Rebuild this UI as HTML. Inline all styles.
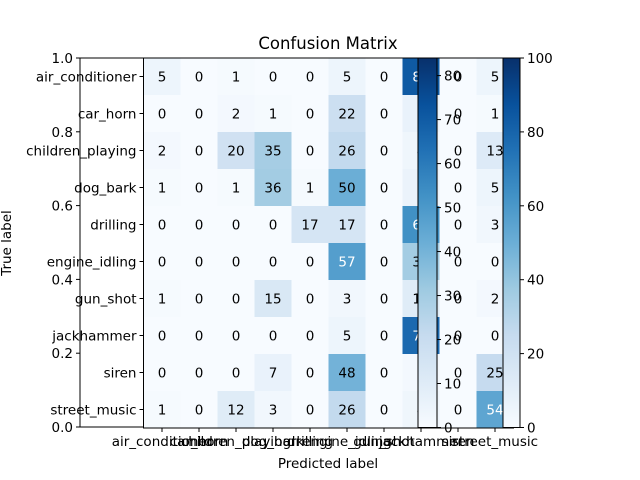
<!DOCTYPE html>
<html><head><meta charset="utf-8"><style>
body{margin:0;background:#fff}
svg{display:block;font-family:"DejaVu Sans","Liberation Sans",sans-serif}
</style></head><body>
<svg id="c" width="640" height="480"></svg>
<script>
const classes=["air_conditioner","car_horn","children_playing","dog_bark","drilling","engine_idling","gun_shot","jackhammer","siren","street_music"];
const r0=[5,0,1,0,0,5,0,84,0,5];
const r1=[0,0,2,1,0,22,0,7,0,1];
const r2=[2,0,20,35,0,26,0,4,0,13];
const r3=[1,0,1,36,1,50,0,6,0,5];
const r4=[0,0,0,0,17,17,0,63,0,3];
const r5=[0,0,0,0,0,57,0,36,0,0];
const r6=[1,0,0,15,0,3,0,12,0,2];
const r7=[0,0,0,0,0,5,0,78,0,0];
const r8=[0,0,0,7,0,48,0,2,0,25];
const r9=[1,0,12,3,0,26,0,4,0,54];
const matrix=[r0,r1,r2,r3,r4,r5,r6,r7,r8,r9];
const cb1Ticks=[0,20,40,60,80,100];
const cb2Ticks=[0,10,20,30,40,50,60,70,80];
const outerTicks=["0.0","0.2","0.4","0.6","0.8","1.0"];

const NS="http://www.w3.org/2000/svg",svg=document.getElementById('c');
function mk(t,a,p){const e=document.createElementNS(NS,t);for(const k in a)e.setAttribute(k,a[k]);(p||svg).appendChild(e);return e;}
const stops=["#f7fbff","#deebf7","#c6dbef","#9ecae1","#6baed6","#4292c6","#2171b5","#08519c","#08306b"];
function hx(h){return [1,3,5].map(i=>parseInt(h.substr(i,2),16));}
function blues(t){t=Math.max(0,Math.min(1,t));const f=t*8,i=Math.min(7,Math.floor(f)),u=f-i;const a=hx(stops[i]),b=hx(stops[i+1]);return "rgb("+a.map((v,k)=>Math.round(v+(b[k]-v)*u)).join(",")+")";}
const X0=143.5,Y0=58,CW=37,CH=37;
const xCol=i=>X0+i*CW, yRow=j=>Y0+j*CH;
const OX0=80,OX1=451,OY0=58,OY1=427;
const oy=v=>OY1-v*(OY1-OY0);
const VMAX=100;

let e=mk('rect',{x:OX0,y:OY0,width:OX1-OX0,height:OY1-OY0,fill:'#fff',stroke:'#000','stroke-width':1});

outerTicks.forEach((t,i)=>{const v=i/5;
 mk('line',{x1:OX0-4,x2:OX0,y1:oy(v),y2:oy(v),stroke:'#000'});
 e=mk('text',{x:OX0-7,y:oy(v)+5,'text-anchor':'end','font-size':13.5});e.textContent=t;
 
});

const g=mk('g',{});
matrix.forEach((row,j)=>row.forEach((v,i)=>{
 e=mk('rect',{x:xCol(i),y:yRow(j),width:CW+0.5,height:CH+0.5,fill:blues(v/VMAX)},g);
 
}));
matrix.forEach((row,j)=>row.forEach((v,i)=>{
 e=mk('text',{x:xCol(i)+CW/2,y:yRow(j)+CH/2+5,'text-anchor':'middle','font-size':13.5,fill:v>VMAX/2?'#fff':'#000'},g);
 e.textContent=v;
}));
mk('rect',{x:X0,y:Y0,width:CW*10,height:CH*10,fill:'none',stroke:'#000'});
classes.forEach((c,i)=>{
 mk('line',{x1:X0-4,x2:X0,y1:yRow(i)+CH/2,y2:yRow(i)+CH/2,stroke:'#000'});
 e=mk('text',{x:X0-7,y:yRow(i)+CH/2+5,'text-anchor':'end','font-size':13.5});e.textContent=c;
 
 mk('line',{x1:xCol(i)+CW/2,x2:xCol(i)+CW/2,y1:Y0+CH*10,y2:Y0+CH*10+4,stroke:'#000'});
 e=mk('text',{x:xCol(i)+CW/2,y:Y0+CH*10+18,'text-anchor':'middle','font-size':13.5});e.textContent=c;
 
});

const defs=mk('defs',{});
const gr=mk('linearGradient',{id:'bl',x1:0,y1:1,x2:0,y2:0},defs);
stops.forEach((s,i)=>mk('stop',{offset:i/8,'stop-color':s},gr));
function cbar(x,w,max,ticks,name){
 const y=v=>427.5-v/max*(427.5-58);
 e=mk('rect',{x:x,y:58,width:w,height:369.5,fill:'url(#bl)',stroke:'#000'});
 
 ticks.forEach(t=>{mk('line',{x1:x+w,x2:x+w+4,y1:y(t),y2:y(t),stroke:'#000'});
  e=mk('text',{x:x+w+7,y:y(t)+5,'font-size':13.5});e.textContent=t;
  });
}
cbar(418,19,84,cb2Ticks,'colorbar-secondary');
cbar(503,17,100,cb1Ticks,'colorbar-main');

e=mk('text',{x:328,y:49,'text-anchor':'middle','font-size':16.5});e.textContent='Confusion Matrix';

e=mk('text',{x:328,y:468,'text-anchor':'middle','font-size':13.5});e.textContent='Predicted label';

e=mk('text',{x:0,y:0,'text-anchor':'middle','font-size':13.5,transform:'translate(11,243) rotate(-90)'});e.textContent='True label';

</script>
</body></html>
